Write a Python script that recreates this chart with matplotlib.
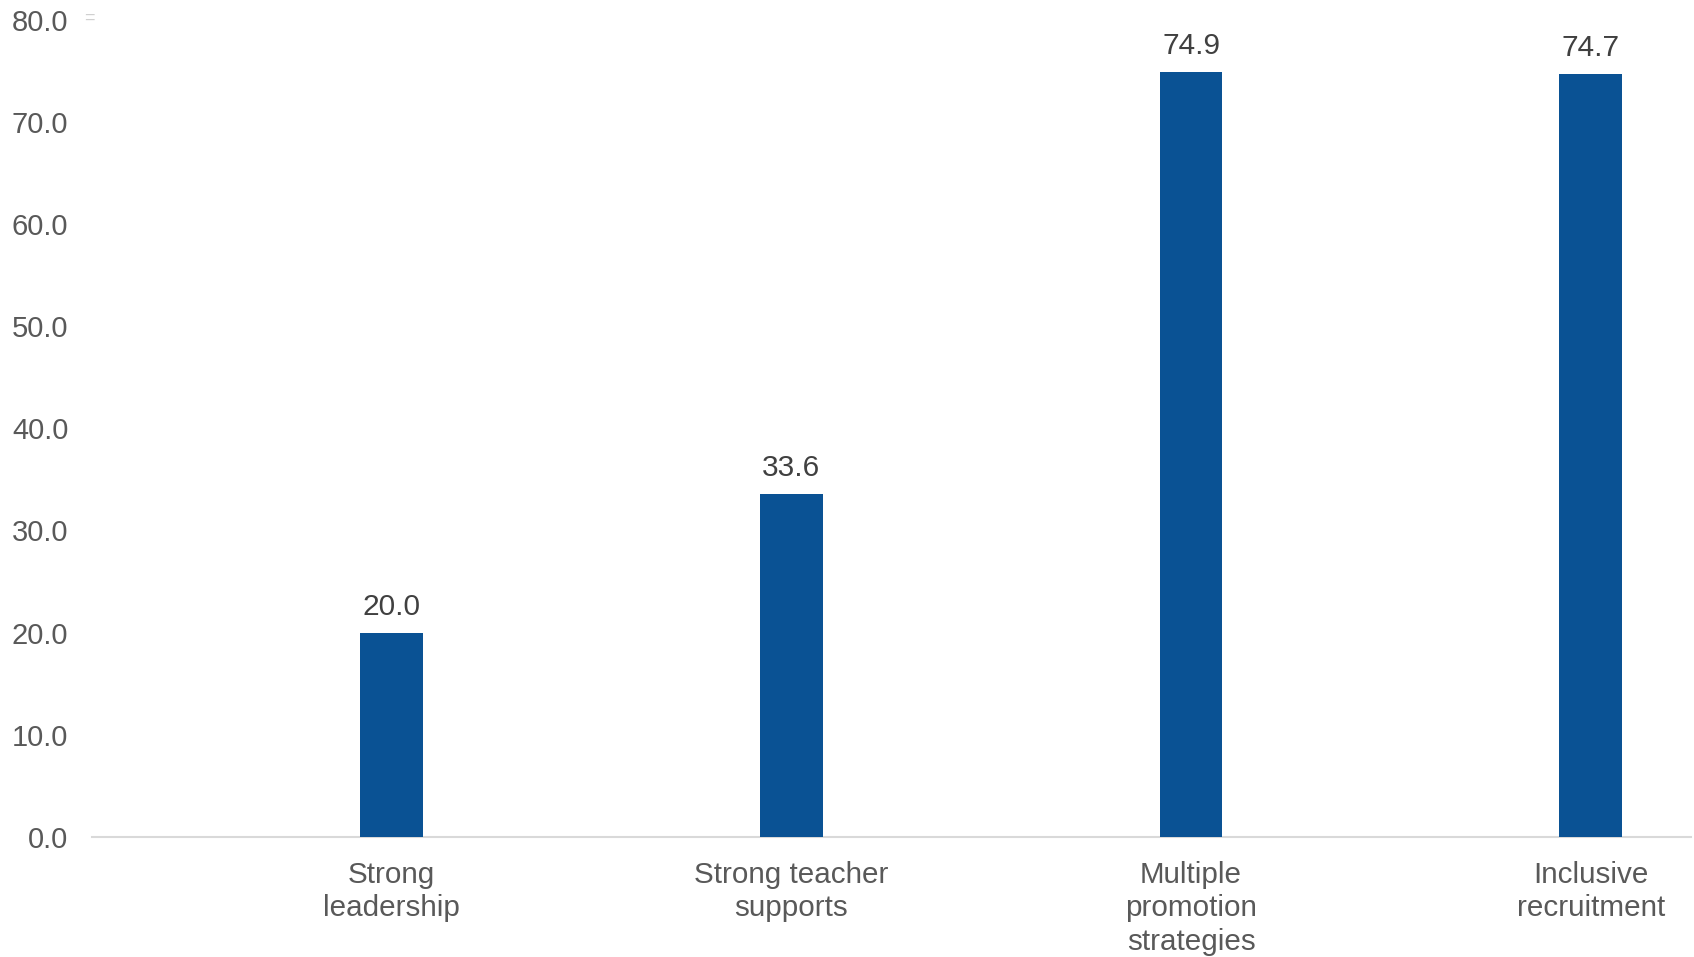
import matplotlib
matplotlib.use("Agg")
import matplotlib.pyplot as plt

categories = ["Strong\nleadership", "Strong teacher\nsupports", "Multiple\npromotion\nstrategies", "Inclusive\nrecruitment"]
values = [20.0, 33.6, 74.9, 74.7]
yticks = [0, 10, 20, 30, 40, 50, 60, 70, 80]

BAR = "#0A5294"
TICK = "#595959"
LABEL = "#404040"

plt.rcParams["font.family"] = ["Liberation Sans", "DejaVu Sans"]

fig = plt.figure(figsize=(16.94, 9.57), dpi=100)
ax = fig.add_axes([0.0543, 0.1254, 0.9437, 0.8542])

x = list(range(len(values)))
bars = ax.bar(x, values, width=0.157, color=BAR, zorder=3)

for xi, v in zip(x, values):
    ax.annotate(f"{v:.1f}", xy=(xi, v), xytext=(0, 8.5), textcoords="offset points",
                ha="center", va="bottom", fontsize=21.5, color=LABEL)

ax.set_xlim(-0.75, 3.25)
ax.set_ylim(0, 80)
ax.set_yticks(yticks)
ax.set_yticklabels([f"{t:.1f}" for t in yticks], fontsize=21, color=TICK)
ax.set_xticks(x)
ax.set_xticklabels(categories, fontsize=21.3, color=TICK, linespacing=1.25, va="top")

ax.tick_params(axis="y", length=0, pad=17)
ax.tick_params(axis="x", length=0, pad=17)

for s in ["top", "right", "left"]:
    ax.spines[s].set_visible(False)
ax.spines["bottom"].set_color("#D9D9D9")
ax.spines["bottom"].set_linewidth(1.5)

# small stray mark beside the top tick label
fig.text(0.0528, 0.981, "=", fontsize=13, color="#D0D0D0", ha="center", va="center")

fig.savefig("out.png", dpi=100, facecolor="white")
